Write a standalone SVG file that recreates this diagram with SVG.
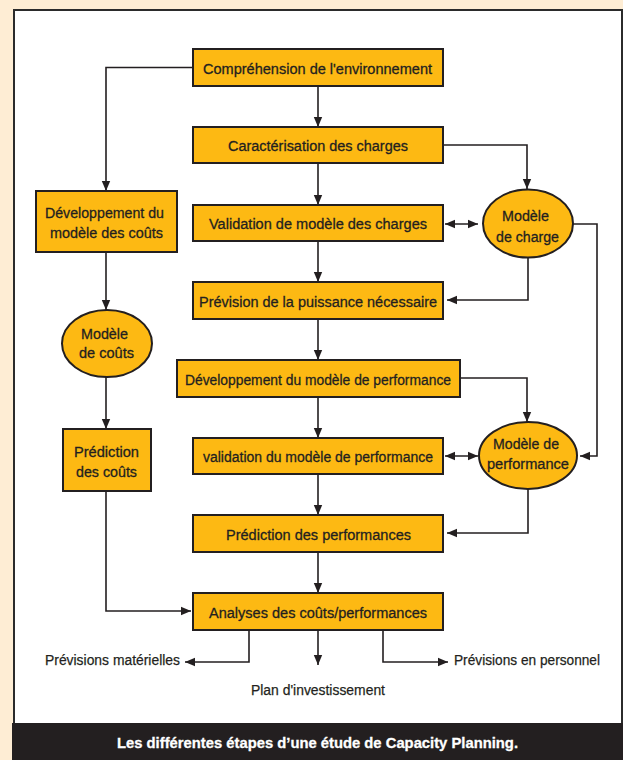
<svg xmlns="http://www.w3.org/2000/svg" width="623" height="760" viewBox="0 0 623 760">
<style>
.box{fill:#FDB913;stroke:#231F20;stroke-width:2}
.t{font-family:"Liberation Sans",Arial,sans-serif;font-size:15.5px;fill:#231F20;stroke:#231F20;stroke-width:0.3;text-anchor:middle}
.l{font-family:"Liberation Sans",Arial,sans-serif;font-size:15.5px;fill:#231F20;stroke:#231F20;stroke-width:0.25}
.c{fill:none;stroke:#231F20;stroke-width:1.6}
.cap{font-family:"Liberation Sans",Arial,sans-serif;font-size:15px;font-weight:bold;fill:#FFFFFF;stroke:#FFFFFF;stroke-width:0.3;text-anchor:middle}
</style>
<defs>
<marker id="ah" markerUnits="userSpaceOnUse" markerWidth="10" markerHeight="10" viewBox="0 0 10 10" refX="10" refY="5" orient="auto-start-reverse">
<path d="M0,0.8 L10,5 L0,9.2 Z" fill="#231F20"/>
</marker>
</defs>
<rect x="0" y="0" width="623" height="760" fill="#FEEDD4"/>
<rect x="14" y="10" width="608" height="714" fill="#FFFFFF" stroke="#2B2B2B" stroke-width="2"/>
<rect x="12" y="723" width="611" height="37" fill="#231F20"/>
<text class="cap" x="317.5" y="747.5" textLength="401" lengthAdjust="spacingAndGlyphs">Les différentes étapes d’une étude de Capacity Planning.</text>

<g id="connectors">
<path class="c" d="M193,67.5 H106 V191" marker-end="url(#ah)"/>
<path class="c" d="M318,86 V127" marker-end="url(#ah)"/>
<path class="c" d="M318,163 V205" marker-end="url(#ah)"/>
<path class="c" d="M443,145 H527 V189" marker-end="url(#ah)"/>
<path class="c" d="M445,224 H478" marker-start="url(#ah)" marker-end="url(#ah)"/>
<path class="c" d="M573,224 H597 V456 H580" marker-end="url(#ah)"/>
<path class="c" d="M528,258 V300 H447" marker-end="url(#ah)"/>
<path class="c" d="M318,241 V282" marker-end="url(#ah)"/>
<path class="c" d="M318,319 V360" marker-end="url(#ah)"/>
<path class="c" d="M460,378 H527 V422" marker-end="url(#ah)"/>
<path class="c" d="M318,397 V438" marker-end="url(#ah)"/>
<path class="c" d="M445,456 H478" marker-start="url(#ah)" marker-end="url(#ah)"/>
<path class="c" d="M528,489 V533 H447" marker-end="url(#ah)"/>
<path class="c" d="M318,474 V515" marker-end="url(#ah)"/>
<path class="c" d="M318,552 V593" marker-end="url(#ah)"/>
<path class="c" d="M106,252 V310" marker-end="url(#ah)"/>
<path class="c" d="M106,377 V429" marker-end="url(#ah)"/>
<path class="c" d="M106,491 V611 H191" marker-end="url(#ah)"/>
<path class="c" d="M249,630 V662 H185" marker-end="url(#ah)"/>
<path class="c" d="M318,630 V665" marker-end="url(#ah)"/>
<path class="c" d="M383,630 V662 H448" marker-end="url(#ah)"/>
</g>

<g id="comprehension">
<rect class="box" x="193" y="49" width="250" height="37"/>
<text class="t" x="317.5" y="74" textLength="229" lengthAdjust="spacingAndGlyphs">Compréhension de l'environnement</text>
</g>
<g id="caracterisation">
<rect class="box" x="193" y="127" width="250" height="36"/>
<text class="t" x="318" y="151" textLength="180" lengthAdjust="spacingAndGlyphs">Caractérisation des charges</text>
</g>
<g id="validation-charges">
<rect class="box" x="193" y="205" width="250" height="36"/>
<text class="t" x="318" y="229" textLength="218" lengthAdjust="spacingAndGlyphs">Validation de modèle des charges</text>
</g>
<g id="prevision-puissance">
<rect class="box" x="193" y="282" width="250" height="37"/>
<text class="t" x="318" y="306.5" textLength="238" lengthAdjust="spacingAndGlyphs">Prévision de la puissance nécessaire</text>
</g>
<g id="dev-modele-perf">
<rect class="box" x="177" y="360" width="283" height="37"/>
<text class="t" x="318" y="384.5" textLength="266" lengthAdjust="spacingAndGlyphs">Développement du modèle de performance</text>
</g>
<g id="validation-perf">
<rect class="box" x="193" y="438" width="250" height="36"/>
<text class="t" x="318" y="462" textLength="230" lengthAdjust="spacingAndGlyphs">validation du modèle de performance</text>
</g>
<g id="prediction-perf">
<rect class="box" x="193" y="515" width="250" height="37"/>
<text class="t" x="318.5" y="539.5" textLength="185" lengthAdjust="spacingAndGlyphs">Prédiction des performances</text>
</g>
<g id="analyses">
<rect class="box" x="193" y="593" width="250" height="37"/>
<text class="t" x="318" y="617.5" textLength="218" lengthAdjust="spacingAndGlyphs">Analyses des coûts/performances</text>
</g>

<g id="dev-modele-couts">
<rect class="box" x="36" y="191" width="141" height="61"/>
<text class="t" x="104.5" y="217.5" textLength="119" lengthAdjust="spacingAndGlyphs">Développement du</text>
<text class="t" x="106.5" y="238" textLength="113" lengthAdjust="spacingAndGlyphs">modèle des coûts</text>
</g>
<g id="modele-couts">
<ellipse class="box" cx="107" cy="343.5" rx="45" ry="33.5"/>
<text class="t" x="104.5" y="338.5" textLength="47" lengthAdjust="spacingAndGlyphs">Modèle</text>
<text class="t" x="106.5" y="357.5" textLength="55" lengthAdjust="spacingAndGlyphs">de coûts</text>
</g>
<g id="prediction-couts">
<rect class="box" x="63" y="429" width="88" height="62"/>
<text class="t" x="106.5" y="456.5" textLength="65" lengthAdjust="spacingAndGlyphs">Prédiction</text>
<text class="t" x="106.5" y="476.5" textLength="61" lengthAdjust="spacingAndGlyphs">des coûts</text>
</g>

<g id="modele-charge">
<ellipse class="box" cx="528" cy="223.5" rx="45" ry="34"/>
<text class="t" x="525.5" y="221" textLength="47" lengthAdjust="spacingAndGlyphs">Modèle</text>
<text class="t" x="527.5" y="241.5" textLength="63" lengthAdjust="spacingAndGlyphs">de charge</text>
</g>
<g id="modele-perf">
<ellipse class="box" cx="528" cy="455.5" rx="49" ry="33.5"/>
<text class="t" x="526" y="448.5" textLength="66" lengthAdjust="spacingAndGlyphs">Modèle de</text>
<text class="t" x="528" y="468.5" textLength="82" lengthAdjust="spacingAndGlyphs">performance</text>
</g>

<g id="outputs">
<text class="l" x="45" y="665" textLength="135" lengthAdjust="spacingAndGlyphs">Prévisions matérielles</text>
<text class="l" x="251" y="695" textLength="134" lengthAdjust="spacingAndGlyphs">Plan d'investissement</text>
<text class="l" x="454" y="664.5" textLength="146" lengthAdjust="spacingAndGlyphs">Prévisions en personnel</text>
</g>
</svg>
